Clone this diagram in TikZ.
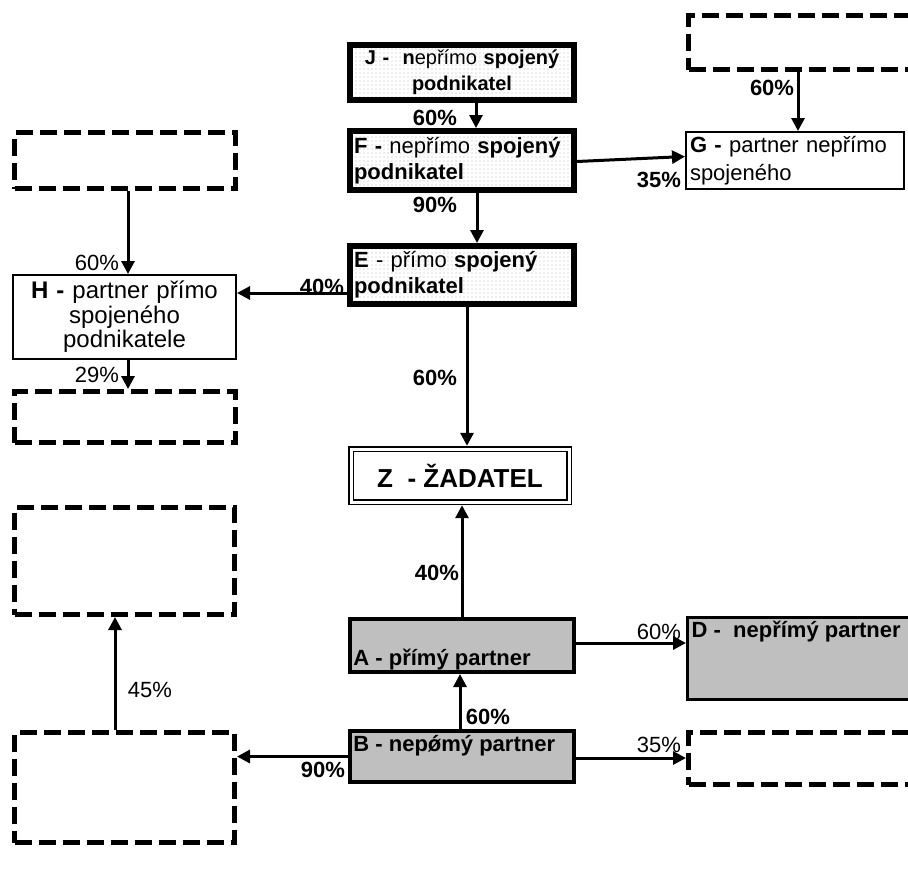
\documentclass[tikz,border=0pt]{standalone}
\usepackage{fontspec}
\setmainfont{Liberation Sans}
\usetikzlibrary{arrows.meta,patterns}
\pgfdeclarepatternformonly{finedots}{\pgfqpoint{-0.4pt}{-0.4pt}}{\pgfqpoint{0.4pt}{0.4pt}}{\pgfqpoint{2pt}{2pt}}{\pgfpathcircle{\pgfqpoint{0pt}{0pt}}{0.35pt}\pgfusepath{fill}}

\begin{document}
\begin{tikzpicture}[x=0.5pt,y=-0.5pt,
    spoj/.style={draw,line width=3pt,pattern=finedots,pattern color=gray!60,inner sep=2pt,
      minimum width=112pt,text width=108pt,font=\fontsize{11}{13}\selectfont},
    partner/.style={draw,line width=1pt,inner sep=2pt,font=\fontsize{11}{14}\selectfont},
    grey/.style={draw,fill=gray!50,line width=2pt,minimum width=112pt},
    empty/.style={draw,line width=2.5pt,dash pattern=on 8.5pt off 3.5pt},
    txt/.style={font=\fontsize{11}{13}\selectfont\bfseries,inner sep=0pt},
    lbl/.style={font=\fontsize{11}{13}\selectfont,inner sep=0pt},
    blbl/.style={lbl,font=\fontsize{11}{13}\selectfont\bfseries},
    arr/.style={-{Triangle[length=6.5pt,width=6.5pt]},line width=1.5pt}]
    \useasboundingbox (0,0) rectangle (908,873);
    \clip (0,0) rectangle (908,873);

    \node[spoj,minimum height=27.5pt,align=center,font=\fontsize{10}{13}\selectfont] (J) at (462,72.5)
        {\textbf{J -\ \ n}epřímo \textbf{spojený}\\\textbf{podnikatel}};
    \node[spoj,minimum height=29.5pt,align=left] (F) at (462,160.5)
        {\textbf{F -} nepřímo \textbf{spojený}\\\textbf{podnikatel}};
    \node[spoj,minimum height=29pt,align=left] (E) at (462,275)
        {\textbf{E} - přímo \textbf{spojený}\\\textbf{podnikatel}};
    \node[partner,minimum width=109pt,minimum height=28.5pt,text width=105pt,align=left] (G) at (795,160.5)
        {\textbf{G -} partner nepřímo\\spojeného};
    \node[partner,minimum width=111.5pt,minimum height=42pt,text width=107pt,align=center,
        font=\fontsize{12}{12.3}\selectfont] (H) at (124.5,317)
        {\textbf{H -} partner přímo\\spojeného\\podnikatele};
    \node[draw,double,line width=0.8pt,double distance=1.5pt,outer sep=1.6pt,minimum width=109pt,
        minimum height=26.5pt,font=\fontsize{13}{15}\selectfont\bfseries] (Z) at (460,475.5) {Z\ \ - ŽADATEL};
    \node[grey,minimum height=26.5pt] (A) at (462,645.5) {};
    \node[grey,minimum height=25.5pt] (B) at (462,756.5) {};
    \node[grey,line width=1.5pt,minimum width=120pt,minimum height=41pt] (D) at (807.5,658.5) {};
    \node[txt,anchor=base west] (tA) at ([shift={(2.5pt,4.5pt)}]A.south west) {A - přímý partner};
    \node[txt,anchor=base west] (tB) at ([shift={(2.5pt,-11pt)}]B.north west) {B - nepǿmý partner};
    \node[txt,anchor=base west] (tD) at ([shift={(2.6pt,-10.6pt)}]D.north west) {D -\ \ nepřímý partner};

    \node[empty,minimum width=120pt,minimum height=27pt] (TR) at (808.5,42.5) {};
    \node[empty,minimum width=110.5pt,minimum height=28pt] (TL) at (125,160.5) {};
    \node[empty,minimum width=110.5pt,minimum height=25.5pt] (ML) at (125,417) {};
    \node[empty,minimum width=110pt,minimum height=53.5pt] (LM) at (124.5,561) {};
    \node[empty,minimum width=110pt,minimum height=55pt] (LB) at (124.5,787.5) {};
    \node[empty,minimum width=120pt,minimum height=26pt] (BR) at (808.5,758.5) {};

    \draw[arr] ([xshift=7pt]J.south) -- ([xshift=7pt]F.north);
    \draw[arr] ([xshift=7.5pt]F.south) -- ([xshift=7.5pt]E.north);
    \draw[arr] ([xshift=2.5pt]E.south) -- ([xshift=2.5pt]E.south |- Z.north);
    \draw[arr] (A.north) -- (A.north |- Z.south);
    \draw[arr] ([xshift=-1pt]B.north) -- ([xshift=-1pt]A.south);
    \draw[arr] ([yshift=-0.5pt]F.east) -- ([yshift=2pt]G.west);
    \draw[arr] ([xshift=1.5pt]G.north |- TR.south) -- ([xshift=1.5pt]G.north);
    \draw[arr] ([yshift=-9pt]E.west) -- ([yshift=-9pt]E.west -| H.east);
    \draw[arr] ([xshift=1.5pt]TL.south) -- ([xshift=1.5pt]TL.south |- H.north);
    \draw[arr] ([xshift=1.5pt]ML.north |- H.south) -- ([xshift=1.5pt]ML.north);
    \draw[arr] (B.west) -- (B.west -| LB.east);
    \draw[arr] ([xshift=-4.75pt]LB.north) -- ([xshift=-4.75pt]LM.south);
    \draw[arr] ([yshift=1.25pt]A.east) -- ([yshift=1.25pt]A.east -| D.west);
    \draw[arr] ([yshift=-0.75pt]B.east) -- ([yshift=-0.75pt]B.east -| BR.west);

    \node[blbl] (pJF) at (435,118) {60\%};
    \node[blbl] (pTG) at (772,88) {60\%};
    \node[blbl] (pFG) at (659,180) {35\%};
    \node[blbl] (pFE) at (435,205) {90\%};
    \node[blbl] (pEH) at (322,287) {40\%};
    \node[blbl] (pEZ) at (435,378) {60\%};
    \node[lbl] (pTH) at (97,263) {60\%};
    \node[lbl] (pHM) at (97,375) {29\%};
    \node[blbl] (pAZ) at (437,573) {40\%};
    \node[blbl] (pBA) at (488,717) {60\%};
    \node[lbl] (pAD) at (659,632) {60\%};
    \node[lbl] (pBR) at (659,745) {35\%};
    \node[blbl] (pBL) at (323,770) {90\%};
    \node[lbl] (pLL) at (150,690) {45\%};
\end{tikzpicture}
\end{document}
